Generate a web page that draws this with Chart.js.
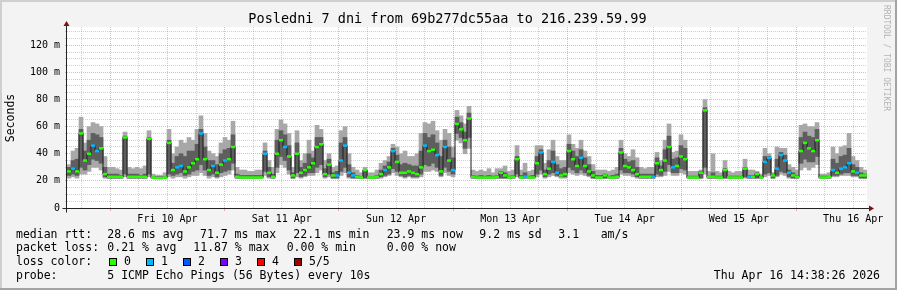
<!DOCTYPE html>
<html>
<head>
<meta charset="utf-8">
<script src="https://cdn.jsdelivr.net/npm/chart.js@4"></script>
<style>
  html, body { margin: 0; padding: 0; background: #f3f3f3; }
  canvas { display: block; }
</style>
</head>
<body>
<canvas id="chart" width="897" height="290"></canvas>
<script>
  // hours since Thu 9 Apr 00:00
  const firstHour = 14.9;
  const lastHour = 182.9;
  const stepHours = 0.84;

  const gridHours = [18, 24, 30, 36, 42, 48, 54, 60, 66, 72, 78, 84, 90, 96, 102, 108,
    114, 120, 126, 132, 138, 144, 150, 156, 162, 168, 174, 180];
  const dayLabels = ['Fri 10 Apr', 'Sat 11 Apr', 'Sun 12 Apr', 'Mon 13 Apr',
    'Tue 14 Apr', 'Wed 15 Apr', 'Thu 16 Apr'];

  // median rtt (ms)
  const med = [
    27, 29, 27, 55, 35, 40, 46, 42, 44, 25,
    23, 23, 23, 23, 52, 23, 23, 23, 23, 23,
    51, 22.5, 22, 22, 22.5, 48, 28, 30, 31, 27,
    30, 33, 36, 55, 36, 28, 31, 26, 32, 35,
    36, 45, 23, 22.5, 22.5, 22.5, 22.5, 22.5, 22.5, 40,
    26, 23, 40, 50, 45, 38, 24, 40, 26, 28,
    30, 33, 45, 47, 25, 32, 24, 24, 35, 46,
    26, 24, 23, 22.5, 28, 22.5, 22.5, 23, 25, 28,
    30, 42, 34, 26, 26, 27, 26, 25, 30, 46,
    42, 43, 39, 27, 45, 35, 28, 62, 58, 50,
    66, 23, 22.5, 22.5, 22.5, 22.5, 22.5, 23, 26, 24,
    22.5, 23, 36, 22.5, 23, 22.5, 22.5, 33, 41, 25,
    29, 34, 26, 24, 25, 42, 36, 31, 37, 31,
    27, 24, 22.5, 22.5, 24, 22.5, 22.5, 23, 41, 31,
    30, 28, 25, 23, 23, 23, 23, 33, 28, 35,
    45, 30, 31, 38, 36, 22.5, 22.5, 22.5, 26, 72,
    23, 23, 22.5, 22.5, 28, 22.5, 22.5, 22.5, 22.5, 29,
    23, 23, 25, 22.5, 34, 37, 24, 29, 39, 35,
    26, 24, 23, 42, 48, 44, 42, 50, 22.5, 22.5,
    23, 28, 26, 29, 30, 33, 27, 26, 24, 24
  ];
  // outer smoke (min / max ping)
  const smokeLo = [
    22, 23, 22, 25, 25, 27, 30, 30, 28, 22,
    22, 22, 22, 22, 23, 22, 22, 22, 22, 22,
    23, 22, 22, 22, 22, 23, 22, 23, 23, 22,
    23, 24, 24, 26, 24, 22, 23, 22, 23, 24,
    25, 28, 22, 22, 22, 22, 22, 22, 22, 24,
    22, 22, 26, 32, 30, 25, 22, 23, 22, 23,
    24, 24, 26, 28, 22, 23, 22, 22, 24, 26,
    22, 22, 22, 22, 22, 22, 22, 22, 22, 23,
    24, 26, 24, 23, 22, 23, 22, 22, 23, 27,
    27, 28, 27, 23, 26, 24, 23, 50, 48, 40,
    44, 22, 22, 22, 22, 22, 22, 22, 22, 22,
    22, 22, 23, 22, 22, 22, 22, 23, 25, 22,
    23, 24, 23, 22, 22, 26, 25, 24, 25, 24,
    23, 22, 22, 22, 22, 22, 22, 22, 25, 24,
    24, 23, 22, 22, 22, 22, 22, 23, 23, 24,
    27, 24, 24, 26, 25, 22, 22, 22, 22, 25,
    22, 22, 22, 22, 22, 22, 22, 22, 22, 22,
    22, 22, 22, 22, 23, 24, 22, 23, 25, 24,
    22, 22, 22, 28, 30, 28, 30, 32, 22, 22,
    22, 23, 23, 24, 24, 24, 23, 23, 22, 22
  ];
  const smokeHi = [
    32, 42, 44, 67, 48, 60, 63, 62, 60, 38,
    30, 30, 29, 28, 56, 30, 29, 30, 29, 31,
    57, 25, 24, 24, 26, 58, 40, 45, 50, 48,
    52, 50, 58, 68, 55, 42, 40, 38, 48, 52,
    50, 64, 30, 28, 28, 27, 27, 28, 28, 48,
    35, 30, 58, 65, 62, 55, 30, 57, 35, 40,
    50, 42, 61, 58, 35, 40, 30, 31, 57, 60,
    40, 30, 28, 26, 30, 26, 26, 28, 33, 35,
    38, 47, 45, 40, 42, 38, 38, 40, 55, 63,
    62, 64, 57, 50, 58, 55, 45, 72, 68, 62,
    75, 28, 27, 28, 27, 29, 26, 29, 29, 31,
    27, 28, 46, 28, 33, 27, 28, 46, 46, 33,
    43, 50, 38, 35, 35, 54, 47, 44, 50, 42,
    38, 32, 28, 28, 28, 27, 28, 30, 50, 40,
    38, 43, 37, 30, 29, 30, 30, 41, 35, 50,
    62, 41, 42, 54, 50, 27, 27, 27, 28, 80,
    27, 40, 27, 26, 35, 27, 26, 27, 27, 36,
    28, 28, 27, 25, 44, 40, 26, 45, 44, 44,
    32, 30, 28, 61, 62, 60, 60, 63, 25, 25,
    26, 45, 40, 45, 46, 55, 38, 35, 30, 28
  ];
  // inner, denser smoke
  const coreLo = [
    24, 25, 24, 30, 28, 32, 36, 35, 33, 23,
    22, 22, 22, 22, 25, 22, 22, 22, 22, 22,
    25, 22, 22, 22, 22, 25, 24, 25, 26, 24,
    25, 27, 28, 32, 28, 24, 25, 23, 26, 27,
    28, 33, 22, 22, 22, 22, 22, 22, 22, 27,
    23, 22, 30, 38, 35, 28, 22, 26, 23, 24,
    26, 26, 30, 32, 23, 25, 22, 22, 27, 30,
    23, 22, 22, 22, 22, 22, 22, 22, 23, 24,
    25, 29, 27, 24, 23, 24, 23, 23, 25, 32,
    31, 33, 30, 24, 30, 27, 25, 55, 52, 44,
    52, 22, 22, 22, 22, 22, 22, 22, 22, 22,
    22, 22, 25, 22, 22, 22, 22, 25, 28, 23,
    25, 26, 24, 23, 23, 30, 28, 26, 28, 26,
    24, 22, 22, 22, 22, 22, 22, 22, 28, 26,
    26, 25, 23, 22, 22, 22, 22, 25, 24, 27,
    32, 26, 26, 29, 28, 22, 22, 22, 22, 30,
    22, 22, 22, 22, 22, 22, 22, 22, 22, 23,
    22, 22, 22, 22, 25, 26, 22, 24, 27, 26,
    23, 22, 22, 33, 36, 34, 34, 38, 22, 22,
    22, 24, 24, 25, 26, 26, 24, 24, 22, 22
  ];
  const coreHi = [
    30, 35, 36, 58, 42, 50, 55, 54, 52, 30,
    25, 25, 25, 24, 53, 25, 25, 25, 24, 25,
    52, 23, 23, 23, 23, 50, 33, 38, 40, 38,
    42, 42, 47, 58, 45, 35, 35, 32, 40, 43,
    44, 54, 25, 24, 24, 24, 24, 24, 24, 42,
    30, 25, 50, 57, 54, 46, 26, 48, 30, 33,
    40, 37, 52, 52, 29, 36, 26, 27, 48, 52,
    32, 26, 24, 23, 28, 23, 23, 24, 28, 31,
    34, 44, 39, 32, 33, 32, 31, 31, 42, 55,
    52, 54, 48, 38, 50, 45, 37, 67, 63, 56,
    70, 24, 23.5, 24, 23.5, 24, 23.5, 24, 27, 26,
    23.5, 24, 38, 24, 26, 23.5, 24, 38, 43, 28,
    35, 42, 32, 29, 30, 47, 42, 38, 43, 37,
    32, 27, 24, 24, 25, 23.5, 24, 25, 44, 36,
    34, 35, 30, 25, 25, 25, 25, 37, 31, 43,
    53, 36, 37, 46, 44, 23.5, 23.5, 23.5, 27, 74,
    23.5, 26, 23.5, 23.5, 29, 23.5, 23.5, 23.5, 23.5, 30,
    24, 24, 26, 23.5, 38, 38, 25, 36, 41, 39,
    28, 26, 24, 52, 56, 53, 52, 58, 23.5, 23.5,
    23.5, 36, 33, 38, 39, 44, 32, 30, 26, 25
  ];
  // lost pings out of 5
  const loss = [
    0, 1, 0, 0, 0, 0, 1, 1, 0, 0,
    0, 0, 0, 0, 0, 0, 0, 0, 0, 0,
    0, 0, 0, 0, 0, 0, 0, 1, 1, 0,
    0, 0, 0, 1, 0, 0, 1, 0, 0, 1,
    0, 0, 0, 0, 0, 0, 0, 0, 0, 1,
    0, 0, 0, 0, 1, 0, 0, 0, 0, 0,
    0, 0, 0, 0, 0, 0, 0, 1, 1, 1,
    1, 1, 0, 0, 0, 0, 0, 0, 0, 1,
    0, 1, 0, 0, 0, 0, 0, 0, 0, 1,
    0, 0, 1, 0, 1, 0, 1, 0, 0, 0,
    0, 0, 0, 0, 0, 0, 0, 0, 0, 0,
    0, 0, 0, 0, 1, 0, 0, 0, 1, 0,
    0, 1, 1, 0, 0, 0, 0, 0, 1, 0,
    0, 0, 0, 0, 0, 0, 0, 0, 0, 0,
    0, 0, 0, 0, 0, 0, 1, 0, 0, 0,
    0, 1, 0, 0, 0, 0, 0, 0, 0, 0,
    0, 0, 0, 0, 0, 0, 0, 0, 0, 0,
    1, 0, 0, 0, 1, 1, 0, 1, 1, 1,
    1, 0, 0, 0, 0, 0, 0, 0, 0, 0,
    0, 1, 0, 1, 1, 1, 0, 1, 0, 0
  ];

  const lossColors = ['#26ff00', '#00b8ff', '#0059ff', '#7e00ff', '#ff0000', '#a10000'];
  const lossNames = ['0', '1', '2', '3', '4', '5/5'];

  const mono = '"DejaVu Sans Mono", monospace';
  const majorCol = 'rgba(255, 70, 70, 0.45)';
  const minorCol = 'rgba(140, 140, 140, 0.42)';

  const hours = med.map((_, i) => firstHour + (i + 0.5) * stepHours);
  const pts = arr => arr.map((v, i) => ({ x: hours[i], y: v }));
  const band = (lo, hi) => lo.map((v, i) => ({ x: hours[i], y: [v, hi[i]] }));

  const rrdLook = {
    id: 'rrdLook',
    beforeDraw(chart) {
      const { ctx, chartArea: a, width, height } = chart;
      ctx.save();
      ctx.fillStyle = '#f3f3f3';
      ctx.fillRect(0, 0, width, height);
      ctx.fillStyle = '#cfcfcf';
      ctx.fillRect(0, 0, width, 2);
      ctx.fillRect(0, 0, 2, height);
      ctx.fillStyle = '#a3a3a3';
      ctx.fillRect(0, height - 2, width, 2);
      ctx.fillRect(width - 2, 0, 2, height);
      ctx.fillStyle = '#ffffff';
      ctx.fillRect(a.left, a.top, a.right - a.left, a.bottom - a.top);
      ctx.restore();
    },
    afterDraw(chart) {
      const { ctx, chartArea: a } = chart;
      const x0 = a.left - 0.5;
      const y0 = a.bottom + 0.5;
      ctx.save();

      // axes
      ctx.strokeStyle = '#222';
      ctx.lineWidth = 1;
      ctx.beginPath();
      ctx.moveTo(x0 - 4, y0);
      ctx.lineTo(a.right + 3, y0);
      ctx.moveTo(x0, y0 + 4);
      ctx.lineTo(x0, a.top - 2);
      ctx.stroke();
      ctx.fillStyle = '#801010';
      ctx.beginPath();
      ctx.moveTo(a.right + 2, y0 - 3);
      ctx.lineTo(a.right + 7, y0);
      ctx.lineTo(a.right + 2, y0 + 3);
      ctx.fill();
      ctx.beginPath();
      ctx.moveTo(x0 - 3, a.top - 1);
      ctx.lineTo(x0, a.top - 6);
      ctx.lineTo(x0 + 3, a.top - 1);
      ctx.fill();

      ctx.fillStyle = '#000';
      ctx.textBaseline = 'middle';

      // title
      ctx.font = '13.5px ' + mono;
      ctx.textAlign = 'center';
      ctx.fillText('Posledni 7 dni from 69b277dc55aa to 216.239.59.99', 447.5, 19);

      // y title
      ctx.save();
      ctx.font = '11.5px ' + mono;
      ctx.translate(11, 118);
      ctx.rotate(-Math.PI / 2);
      ctx.fillText('Seconds', 0, 0);
      ctx.restore();

      // watermark
      ctx.save();
      ctx.font = '8px ' + mono;
      ctx.fillStyle = '#b4b4b4';
      ctx.textAlign = 'left';
      ctx.translate(886, 5);
      ctx.rotate(Math.PI / 2);
      ctx.fillText('RRDTOOL / TOBI OETIKER', 0, 0);
      ctx.restore();

      // legend
      ctx.font = '11.5px ' + mono;
      ctx.textAlign = 'left';
      const rows = [
        [234.7, [[16, 'median rtt:'], [107.3, '28.6 ms avg'], [200, '71.7 ms max'],
          [293.3, '22.1 ms min'], [386.7, '23.9 ms now'], [479.3, '9.2 ms sd'],
          [558.3, '3.1'], [600.7, 'am/s']]],
        [248.3, [[16, 'packet loss:'], [107.3, '0.21 % avg'], [193.3, '11.87 % max'],
          [286.7, '0.00 % min'], [386.7, '0.00 % now']]],
        [262.3, [[16, 'loss color:']]],
        [276.3, [[16, 'probe:'], [107.3, '5 ICMP Echo Pings (56 Bytes) every 10s']]]
      ];
      rows.forEach(([y, parts]) => parts.forEach(([x, s]) => ctx.fillText(s, x, y)));

      lossNames.forEach((name, i) => {
        const bx = 109 + i * 37;
        ctx.fillStyle = lossColors[i];
        ctx.fillRect(bx, 258, 8, 8);
        ctx.strokeStyle = '#000';
        ctx.strokeRect(bx + 0.5, 258.5, 7, 7);
        ctx.fillStyle = '#000';
        ctx.fillText(name, bx + 15, 262.3);
      });

      ctx.textAlign = 'right';
      ctx.fillText('Thu Apr 16 14:38:26 2026', 880, 276.3);
      ctx.restore();
    }
  };

  new Chart(document.getElementById('chart'), {
    type: 'bar',
    data: {
      datasets: [
        {
          type: 'line',
          data: pts(med),
          showLine: false,
          pointStyle: 'line',
          pointRadius: 2,
          pointBorderWidth: 2.5,
          pointBorderColor: c => lossColors[loss[c.dataIndex]],
          pointBackgroundColor: c => lossColors[loss[c.dataIndex]],
          order: 0
        },
        {
          type: 'line',
          data: pts(med),
          stepped: 'middle',
          borderColor: '#1c1c1c',
          borderWidth: 1,
          pointRadius: 0,
          order: 1
        },
        {
          data: band(coreLo, coreHi),
          backgroundColor: '#5e5e5e',
          borderWidth: 0,
          grouped: false,
          barPercentage: 1,
          categoryPercentage: 1,
          order: 2
        },
        {
          data: band(smokeLo, smokeHi),
          backgroundColor: '#a8a8a8',
          borderWidth: 0,
          grouped: false,
          barPercentage: 1,
          categoryPercentage: 1,
          order: 3
        }
      ]
    },
    options: {
      responsive: false,
      devicePixelRatio: 1,
      animation: false,
      events: [],
      layout: { padding: { left: 0, top: 27, right: 30, bottom: 62 } },
      plugins: { legend: { display: false }, tooltip: { enabled: false } },
      scales: {
        x: {
          type: 'linear',
          min: firstHour,
          max: lastHour,
          offset: false,
          afterFit: s => { s.height = 20; },
          afterBuildTicks: s => { s.ticks = gridHours.map(value => ({ value })); },
          grid: {
            offset: false,
            color: c => (c.tick && c.tick.value % 24 === 0 ? majorCol : minorCol),
            tickColor: c => (c.tick && c.tick.value % 24 === 0 ? majorCol : 'rgba(0,0,0,0)'),
            tickLength: 3
          },
          border: { display: false, dash: [1, 1] },
          ticks: {
            autoSkip: false,
            maxRotation: 0,
            padding: 2,
            color: '#000',
            font: { family: mono, size: 10 },
            callback: v => (v % 24 === 12 ? dayLabels[(v - 36) / 24] : '')
          }
        },
        y: {
          min: 0,
          max: 133.5,
          afterFit: s => { s.width = 67; },
          grid: {
            color: c => (c.tick && c.tick.value % 20 === 0 ? majorCol : minorCol),
            tickColor: c => (c.tick && c.tick.value % 20 === 0 ? majorCol : minorCol),
            tickLength: 2
          },
          border: { display: false, dash: [1, 1] },
          ticks: {
            stepSize: 5,
            includeBounds: false,
            autoSkip: false,
            padding: 5,
            color: '#000',
            font: { family: mono, size: 10 },
            callback: v => (v % 20 === 0 ? (v === 0 ? '0' : v + ' m') : '')
          }
        }
      }
    },
    plugins: [rrdLook]
  });
</script>
</body>
</html>
